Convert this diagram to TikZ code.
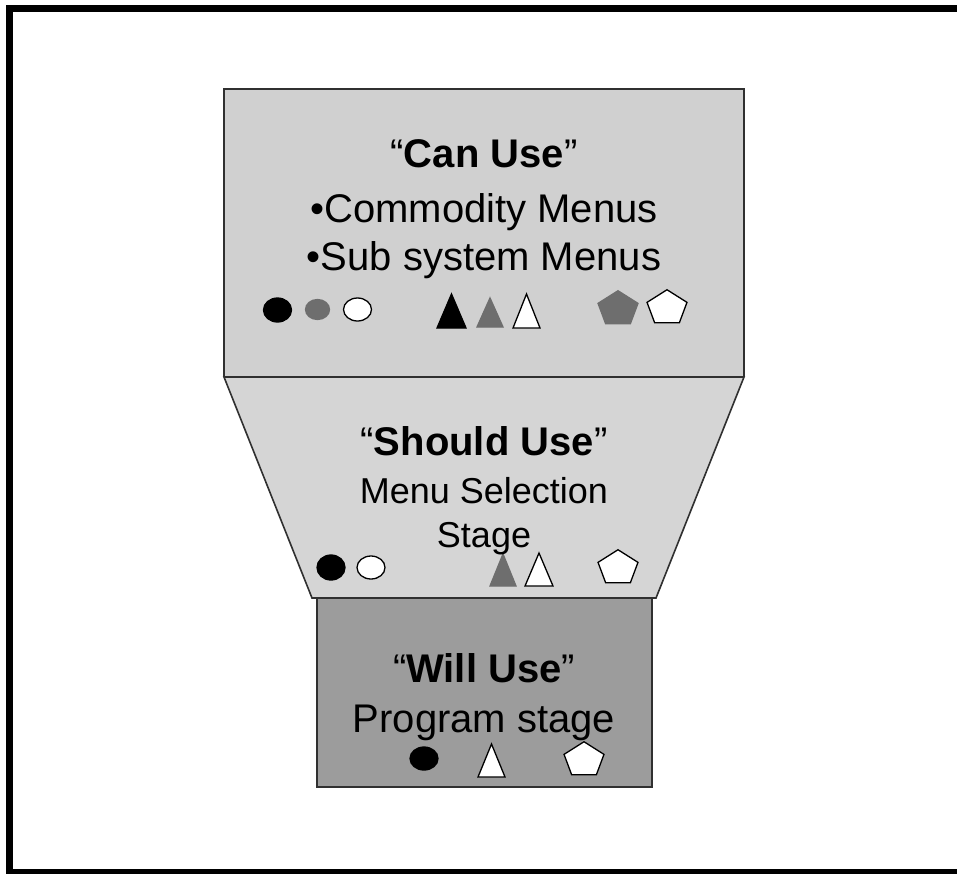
\documentclass[tikz,border=0pt]{standalone}
\usepackage{fontspec}
\setmainfont{Liberation Sans}
\definecolor{boxlight}{HTML}{D0D0D0}
\definecolor{traplight}{HTML}{D5D5D5}
\definecolor{boxdark}{HTML}{9C9C9C}
\definecolor{midgray}{HTML}{6E6E6E}
\definecolor{edgegray}{HTML}{303030}
\tikzset{
  stagebox/.style={draw=edgegray, line width=1.6pt},
  lbl/.style={anchor=base, inner sep=0pt, font=\fontsize{40}{47}\selectfont},
  lblsmall/.style={lbl, font=\fontsize{36}{43}\selectfont},
  shp/.style={draw=black, line width=1.3pt},
  pent/.pic={\path[pic actions, yscale=-0.87] (90:21) -- (162:21) -- (234:21) -- (306:21) -- (378:21) -- cycle;}
}
\begin{document}
\begin{tikzpicture}[x=1pt,y=-1pt]
\useasboundingbox (0,0) rectangle (957,873);
% outer frame
\draw[line width=7pt] (9.5,8.5) rectangle (975,872);
% stage boxes
\fill[boxlight] (224,89) rectangle (744,377);
\draw[stagebox] (224,377) -- (224,89) -- (744,89) -- (744,377);
\fill[traplight] (224,377) -- (744,377) -- (656,598) -- (312,598) -- cycle;
\draw[stagebox] (224,377) -- (744,377) -- (656,598) -- (312,598) -- cycle;
\filldraw[stagebox, fill=boxdark] (317,598) rectangle (652,787);
% top box shapes
\draw[shp, fill=black] (277.5,310) ellipse [x radius=14, y radius=12];
\draw[shp, draw=midgray, fill=midgray] (317.5,309.5) ellipse [x radius=12, y radius=10];
\draw[shp, fill=white] (357.5,309.5) ellipse [x radius=14, y radius=11.5];
\draw[shp, fill=black] (451.5,294) -- (466,328) -- (437,328) -- cycle;
\draw[shp, draw=midgray, fill=midgray] (490,298) -- (503,327) -- (477,327) -- cycle;
\draw[shp, fill=white] (526.5,294) -- (540,328) -- (513,328) -- cycle;
\pic[shp, draw=midgray, fill=midgray] at (618,309) {pent};
\pic[shp, fill=white] at (667,308) {pent};
% trapezoid shapes
\draw[shp, fill=black] (331,567.5) ellipse [x radius=14, y radius=12.5];
\draw[shp, fill=white] (371,567.5) ellipse [x radius=14, y radius=11.5];
\draw[shp, draw=midgray, fill=midgray] (503,554) -- (516,586) -- (490,586) -- cycle;
\draw[shp, fill=white] (539,553) -- (553,586) -- (525,586) -- cycle;
\pic[shp, fill=white] at (618,568) {pent};
% bottom box shapes
\draw[shp, fill=black] (424,758.5) ellipse [x radius=14, y radius=11.5];
\draw[shp, fill=white] (491.5,744) -- (505,777) -- (478,777) -- cycle;
\pic[shp, fill=white] at (584,760) {pent};
% texts
\node[lbl] (can) at (484,167) {“\textbf{Can Use}”};
\node[lbl] (comm) at (484,222) {•Commodity Menus};
\node[lbl] (sub) at (484,270) {•Sub system Menus};
\node[lbl] (should) at (484,455) {“\textbf{Should Use}”};
\node[lblsmall] (menu) at (484,503) {Menu Selection};
\node[lblsmall] (stage) at (484,547) {Stage};
\node[lbl] (will) at (484,682) {“\textbf{Will Use}”};
\node[lbl] (prog) at (484,732) {Program stage};
\end{tikzpicture}
\end{document}
